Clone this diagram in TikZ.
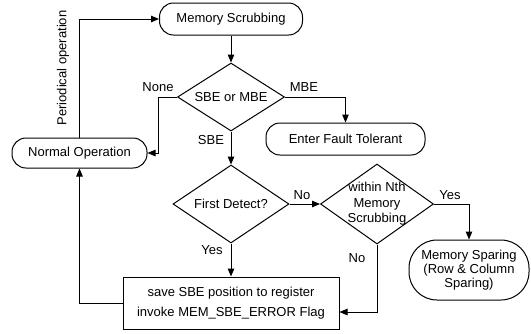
\documentclass[tikz,border=0pt]{standalone}
\usepackage{fontspec}
\setmainfont{Liberation Sans}
\usetikzlibrary{shapes.geometric,arrows.meta}
\begin{document}
\begin{tikzpicture}[x=1pt,y=-1pt,
  font=\fontsize{13}{15.5}\selectfont,
  line width=1pt,
  rbox/.style={draw, rectangle, rounded corners=14pt, inner sep=0pt, align=center},
  dia/.style={draw, diamond, inner sep=0pt},
  arr/.style={-{Triangle[length=8pt,width=6.5pt]}},
  lbl/.style={inner sep=0pt}]
\useasboundingbox (0,0) rectangle (531,333);

\node[rbox, minimum width=143pt, minimum height=32pt] (ms) at (231,19) {Memory Scrubbing};
\node[dia, minimum width=107pt, minimum height=68pt, label=center:SBE or MBE] (d1) at (231,97) {};
\node[rbox, minimum width=159pt, minimum height=32pt] (eft) at (345.5,139) {Enter Fault Tolerant};
\node[rbox, minimum width=135pt, minimum height=30pt] (no) at (79.5,153) {Normal Operation};
\node[dia, minimum width=116pt, minimum height=78pt, label=center:First Detect?] (d2) at (231,204) {};
\node[dia, minimum width=113pt, minimum height=80pt,
  label={[align=center]center:within Nth\\Memory\\Scrubbing}] (d3) at (377,204) {};
\node[rbox, rounded corners=28pt, minimum width=120pt, minimum height=60pt,
  font=\fontsize{13}{14}\selectfont] (msp) at (469,270) {Memory Sparing\\(Row \& Column\\Sparing)};
\node[draw, rectangle, minimum width=216pt, minimum height=52pt, align=center, inner sep=0pt,
  font=\fontsize{13}{20}\selectfont] (save) at (231,303) {save SBE position to register\\invoke MEM\_SBE\_ERROR Flag};

\coordinate (c1) at (158,97);

\draw[arr] (ms) -- (d1);
\draw[arr] (d1.west) -- (c1) |- (no.east);
\draw[arr] (d1.east) -| (eft.north);
\draw[arr] (d1) -- (d2);
\draw[arr] (d2) -- (d3);
\draw[arr] (d2) -- (save);
\draw[arr] (d3.east) -| (msp.north);
\draw[arr] (d3.south) |- ([yshift=-9pt]save.east);
\draw[arr] (save.west) -| (no.south);
\draw[arr] (no.north) |- (ms.west);

\node[lbl] (lnone) at (158,87) {None};
\node[lbl] (lmbe) at (304,87) {MBE};
\node[lbl] (lsbe) at (211,140) {SBE};
\node[lbl] (lno1) at (302,195) {No};
\node[lbl] (lyes1) at (212,250) {Yes};
\node[lbl] (lyes2) at (450,195) {Yes};
\node[lbl] (lno2) at (357,258) {No};
\node[lbl, rotate=90] (lper) at (63,68) {Periodical operation};
\end{tikzpicture}
\end{document}
